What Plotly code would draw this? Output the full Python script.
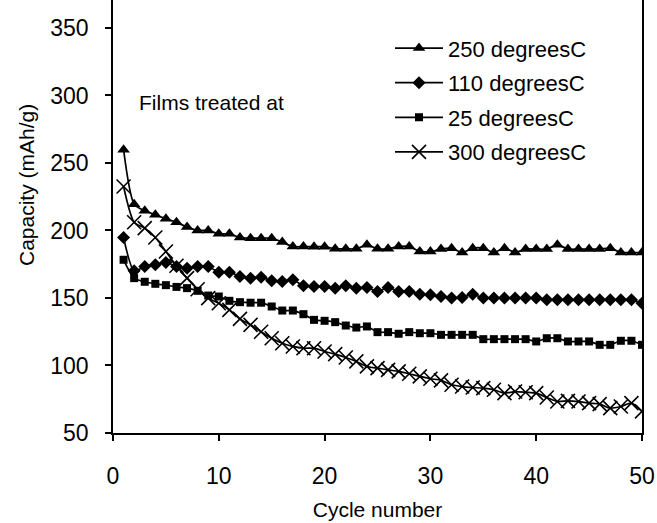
import plotly.graph_objects as go

cycles = list(range(1, 51))

cap_250 = [259.8, 219.5, 214.6, 211.6, 208.7, 206.0, 202.5, 200.0, 200.0, 197.5,
           197.5, 194.8, 194.3, 194.3, 194.3, 191.4, 188.1, 188.1, 188.0, 188.0,
           186.4, 186.4, 186.4, 189.4, 186.4, 186.4, 188.1, 188.1, 184.4, 184.4,
           186.2, 186.9, 183.7, 186.9, 186.9, 183.7, 186.9, 183.7, 186.2, 186.2,
           186.2, 189.4, 186.2, 186.2, 186.2, 186.2, 186.9, 183.7, 183.7, 183.7]

cap_110 = [194.8, 170.1, 173.3, 174.6, 176.3, 173.3, 172.1, 173.3, 173.3, 169.1,
           169.1, 166.0, 164.7, 165.4, 162.7, 162.2, 163.5, 159.0, 158.5, 158.5,
           157.3, 159.0, 157.3, 157.8, 154.8, 157.8, 154.8, 154.8, 152.8, 152.4,
           151.1, 149.9, 150.4, 152.8, 149.9, 149.9, 149.9, 149.9, 149.9, 149.9,
           148.6, 148.6, 148.6, 148.6, 148.6, 148.6, 148.6, 148.6, 148.6, 146.1]

cap_25 = [178.3, 164.7, 162.0, 160.5, 159.5, 158.2, 157.3, 155.3, 151.8, 151.1,
          147.9, 146.9, 146.5, 146.5, 143.7, 140.7, 140.7, 138.0, 133.8, 133.1,
          132.1, 129.6, 128.1, 128.9, 124.7, 124.7, 123.5, 124.7, 123.9, 123.9,
          122.7, 122.7, 122.7, 122.7, 119.5, 119.5, 119.5, 119.5, 119.5, 117.8,
          120.2, 120.2, 117.8, 117.8, 117.8, 115.3, 115.3, 118.3, 118.3, 115.3]

cap_300 = [232.6, 206.1, 201.7, 194.8, 184.4, 173.9, 164.7, 156.5, 149.9, 146.1,
           141.2, 134.5, 130.1, 125.0, 120.2, 116.5, 114.1, 112.8, 112.8, 110.4,
           108.4, 105.9, 103.0, 99.3, 98.0, 96.8, 95.6, 93.9, 91.9, 90.2,
           89.0, 85.7, 84.4, 83.7, 83.2, 82.0, 79.5, 80.7, 80.2, 79.5,
           76.3, 73.3, 73.8, 73.3, 72.1, 71.4, 68.4, 69.6, 72.1, 66.0]

series_names = ["250 degreesC", "110 degreesC", "25 degreesC", "300 degreesC"]
y_ticks = [50, 100, 150, 200, 250, 300, 350]
x_ticks = [0, 10, 20, 30, 40, 50]

FONT = "Arial, 'Liberation Sans', sans-serif"

fig = go.Figure()

styles = [
    (cap_250, dict(symbol="triangle-up", size=11, color="black")),
    (cap_110, dict(symbol="diamond", size=10, color="black")),
    (cap_25, dict(symbol="square", size=8, color="black")),
    (cap_300, dict(symbol="x-thin-open", size=14, color="black",
                   line=dict(width=1.6, color="black"))),
]

for i, (vals, mk) in enumerate(styles):
    fig.add_trace(go.Scatter(
        x=cycles, y=vals, name=series_names[i], mode="lines+markers",
        line=dict(color="black", width=1.7, shape="spline", smoothing=0.7),
        marker=mk, legendgroup=f"g{i}",
    ))

fig.add_annotation(
    text="Films treated at", xref="paper", yref="paper",
    x=0.045, y=0.764, xanchor="left", yanchor="middle", showarrow=False,
    font=dict(family=FONT, size=21, color="black"),
)
# y-axis title (placed as in the reference, above the plot-area centre)
fig.add_annotation(
    text="Capacity (mAh/g)", xref="paper", yref="paper",
    x=(26 - 113) / 529, y=(433 - 185) / 433, xanchor="center", yanchor="middle",
    textangle=-90, showarrow=False,
    font=dict(family=FONT, size=21, color="black"),
)

fig.update_layout(
    width=657, height=523,
    margin=dict(l=113, r=15, t=0, b=90),
    paper_bgcolor="white", plot_bgcolor="white",
    font=dict(family=FONT, size=22, color="black"),
    showlegend=True,
    legend=dict(
        x=(390 - 113) / 529, y=0.937, xanchor="left", yanchor="top",
        bgcolor="rgba(0,0,0,0)", font=dict(family=FONT, size=22, color="black"),
        tracegroupgap=3, itemwidth=48,
    ),
)

fig.update_xaxes(
    range=[0, 50], tickvals=x_ticks, ticktext=[str(v) for v in x_ticks],
    showgrid=False, zeroline=False, showline=True, linecolor="black", linewidth=1.5,
    ticks="outside", ticklen=6, tickwidth=1.5, tickcolor="black",
    ticklabelstandoff=16,
    title=dict(text="Cycle number", font=dict(family=FONT, size=21), standoff=14),
    tickfont=dict(family=FONT, size=23),
)
fig.update_yaxes(
    range=[50, 370.7], tickvals=y_ticks, ticktext=[str(v) for v in y_ticks],
    showgrid=False, zeroline=False, showline=True, linecolor="black", linewidth=1.5,
    mirror=True,
    ticks="outside", ticklen=6, tickwidth=1.5, tickcolor="black",
    ticklabelstandoff=12,
    tickfont=dict(family=FONT, size=23),
)

fig.write_html("out.html")
